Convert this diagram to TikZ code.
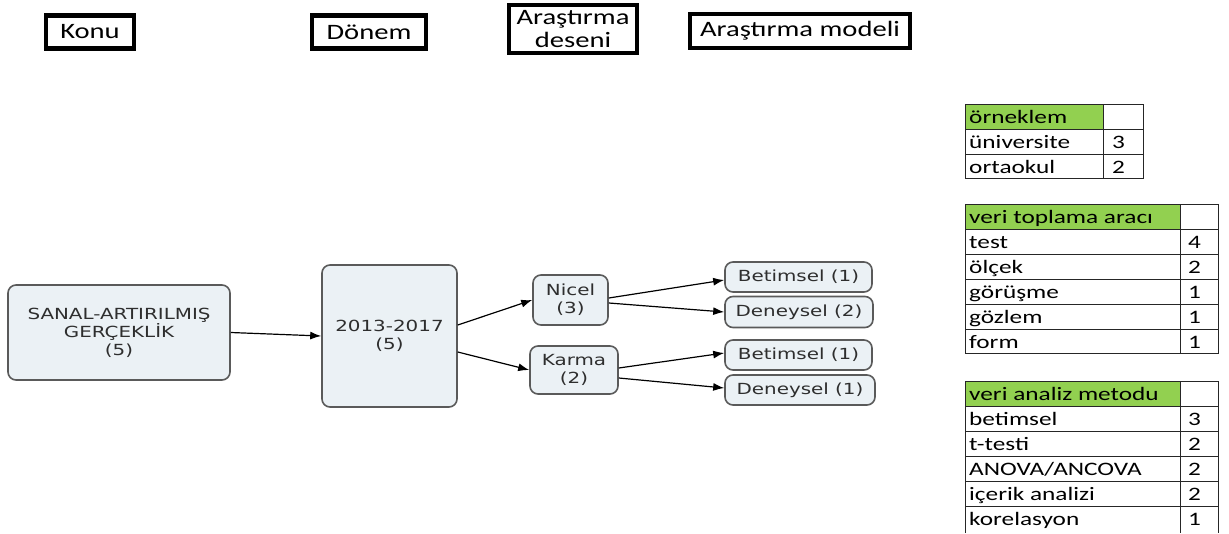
\documentclass[tikz,border=0pt]{standalone}
\usepackage{fontspec}
\setmainfont{Carlito}
\newfontfamily\calib[FakeStretch=1.3]{Carlito}
\newfontfamily\calibt[FakeStretch=1.33]{Carlito}
\newfontfamily\verd[FakeStretch=1.3]{DejaVu Sans}
\usetikzlibrary{arrows.meta,calc}
\definecolor{boxfill}{HTML}{EBF1F5}
\definecolor{boxdraw}{HTML}{5A5A5A}
\definecolor{hdrgreen}{HTML}{92D050}
\definecolor{flowtext}{HTML}{2E2E2E}
\begin{document}
\begin{tikzpicture}[x=1pt,y=-1pt,
  hdr/.style={draw=black,line width=4.5pt,fill=white,inner sep=0pt,font=\calib\fontsize{22}{26}\selectfont,text=black,align=center},
  flow/.style={draw=boxdraw,line width=1.6pt,fill=boxfill,rounded corners=8pt,inner sep=0pt,font=\verd\fontsize{15.3}{18}\selectfont,text=flowtext,align=center},
  arr/.style={-{Latex[length=11pt,width=8pt]},line width=1.2pt,black},
  cell/.style={inner sep=0pt,anchor=base west,font=\calibt\fontsize{19}{20}\selectfont,text=black},
  grid/.style={line width=1pt,draw=black!85}]

\useasboundingbox (0,0) rectangle (1229,533);

% header boxes
\node[hdr,minimum width=88pt,minimum height=33pt] (konu) at (90,32) {Konu};
\node[hdr,minimum width=114pt,minimum height=33pt] (donemh) at (369,32) {Dönem};
\node[hdr,minimum width=128pt,minimum height=48pt] (desen) at (573,29) {Araştırma\\[-3pt]deseni};
\node[hdr,minimum width=220pt,minimum height=34pt] (model) at (800,31) {Araştırma modeli};

% flow boxes
\node[flow,minimum width=222pt,minimum height=95pt] (sanal) at (119,332.5) {SANAL-ARTIRILMIŞ\\GERÇEKLİK\\(5)};
\node[flow,minimum width=135pt,minimum height=142pt] (donem) at (389.5,336) {2013-2017\\(5)};
\node[flow,minimum width=75pt,minimum height=50pt] (nicel) at (570.5,300) {Nicel\\(3)};
\node[flow,minimum width=88pt,minimum height=48pt] (karma) at (574,370) {Karma\\(2)};
\node[flow,minimum width=147pt,minimum height=30pt] (bet1) at (798.5,277) {Betimsel (1)};
\node[flow,minimum width=148pt,minimum height=31pt] (den2) at (799,312) {Deneysel (2)};
\node[flow,minimum width=147pt,minimum height=30pt] (bet2) at (798.5,355) {Betimsel (1)};
\node[flow,minimum width=150pt,minimum height=30pt] (den1) at (800,390) {Deneysel (1)};

% connectors
\draw[arr] (sanal.east) -- (donem.west);
\draw[arr] ($(donem.east)+(0,-11)$) -- (nicel.west);
\draw[arr] ($(donem.east)+(0,16)$) -- (karma.west);
\draw[arr] ($(nicel.east)+(0,-2)$) -- ($(bet1.west)+(0,3)$);
\draw[arr] ($(nicel.east)+(0,3)$) -- (den2.west);
\draw[arr] ($(karma.east)+(0,-2)$) -- ($(bet2.west)+(0,-2)$);
\draw[arr] ($(karma.east)+(0,8)$) -- ($(den1.west)+(0,-2)$);

% table 1
\fill[hdrgreen] (965,104) rectangle (1103,129);
\draw[grid] (965,104) rectangle (1143,178);
\draw[grid] (1103,104) -- (1103,178);
\foreach \y in {129,154} \draw[grid] (965,\y) -- (1143,\y);
\node[cell] (t1h) at (969,123) {örneklem};
\node[cell] (t1a) at (969,148) {üniversite};
\node[cell] (t1an) at (1112,148) {3};
\node[cell] (t1b) at (969,173) {ortaokul};
\node[cell] (t1bn) at (1112,173) {2};

% table 2
\fill[hdrgreen] (965,204) rectangle (1180,229);
\draw[grid] (965,204) rectangle (1218,353);
\draw[grid] (1180,204) -- (1180,353);
\foreach \y in {229,254,279,304,329} \draw[grid] (965,\y) -- (1218,\y);
\node[cell] (t2h) at (969,223) {veri toplama aracı};
\node[cell] (t2a) at (969,248) {test};
\node[cell] (t2an) at (1188,248) {4};
\node[cell] (t2b) at (969,273) {ölçek};
\node[cell] (t2bn) at (1188,273) {2};
\node[cell] (t2c) at (969,298) {görüşme};
\node[cell] (t2cn) at (1188,298) {1};
\node[cell] (t2d) at (969,323) {gözlem};
\node[cell] (t2dn) at (1188,323) {1};
\node[cell] (t2e) at (969,348) {form};
\node[cell] (t2en) at (1188,348) {1};

% table 3
\fill[hdrgreen] (965,381) rectangle (1180,406);
\draw[grid] (965,533) -- (965,381) -- (1218,381) -- (1218,533);
\draw[grid] (1180,381) -- (1180,533);
\foreach \y in {406,431,456,481,506} \draw[grid] (965,\y) -- (1218,\y);
\node[cell] (t3h) at (969,400) {veri analiz metodu};
\node[cell] (t3a) at (969,425) {betimsel};
\node[cell] (t3an) at (1188,425) {3};
\node[cell] (t3b) at (969,450) {t-testi};
\node[cell] (t3bn) at (1188,450) {2};
\node[cell] (t3c) at (969,475) {ANOVA/ANCOVA};
\node[cell] (t3cn) at (1188,475) {2};
\node[cell] (t3d) at (969,500) {içerik analizi};
\node[cell] (t3dn) at (1188,500) {2};
\node[cell] (t3e) at (969,525) {korelasyon};
\node[cell] (t3en) at (1188,525) {1};
\end{tikzpicture}
\end{document}
